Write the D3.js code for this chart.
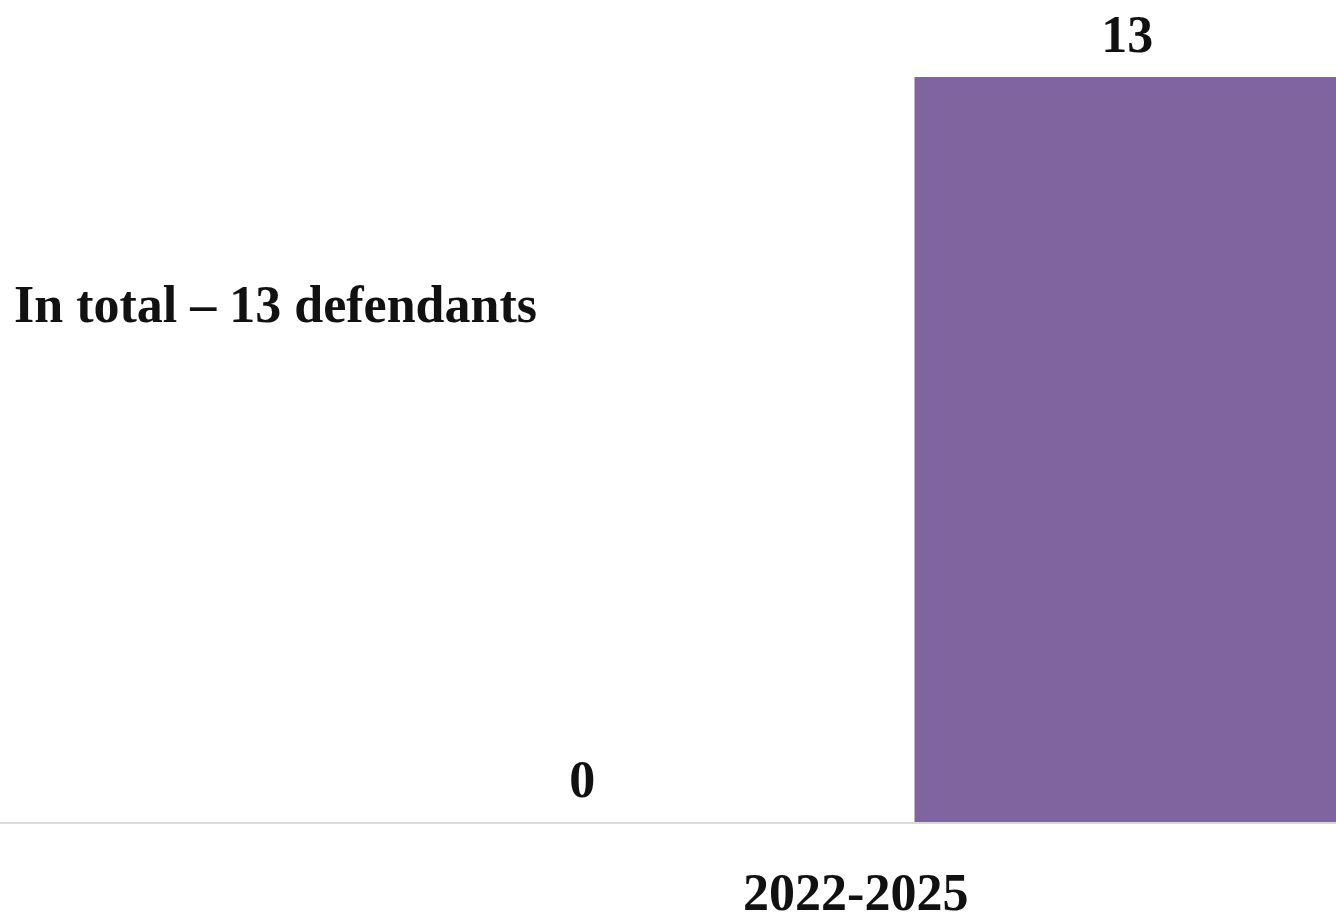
<!DOCTYPE html>
<html><head><meta charset="utf-8">
<script src="https://cdn.jsdelivr.net/npm/d3@7"></script>
<style>html,body{margin:0;padding:0;background:#fff;overflow:hidden}</style>
</head><body>
<svg id="c" width="1336" height="918"></svg>
<script>
const categories = ["2022-2025"];
const series = ["Before", "After"];
const values = [[0, 13]];
const colors = ["#8064a0", "#8064a0"];
const note = "In total – 13 defendants";

const svg = d3.select("#c");
const font = "'Liberation Serif', serif";
const fs = 52;
const baseY = 822, topY = 77;
const y = d3.scaleLinear().domain([0, 13]).range([baseY, topY]);
const x0 = d3.scaleBand().domain(categories).range([369.5, 1336]).padding(0);
const x1 = d3.scaleBand().domain(series).range([0, x0.bandwidth()]).paddingInner(0.2266).paddingOuter(0);

svg.append("line").attr("x1", 0).attr("x2", 1336).attr("y1", baseY + 1).attr("y2", baseY + 1)
  .attr("stroke", "#d9d9d9").attr("stroke-width", 2);

const g = svg.selectAll("g.cat").data(categories).join("g").attr("class", "cat")
  .attr("transform", d => `translate(${x0(d)},0)`);

categories.forEach((c, ci) => {
  const gg = g.filter(d => d === c);
  const rows = series.map((s, si) => ({s, v: values[ci][si], col: colors[si]}));
  gg.selectAll("rect").data(rows).join("rect")
    .attr("x", d => x1(d.s)).attr("width", x1.bandwidth())
    .attr("y", d => y(d.v)).attr("height", d => baseY - y(d.v))
    .attr("fill", d => d.col);
  gg.selectAll("text.val").data(rows).join("text").attr("class", "val")
    .attr("x", d => x1(d.s) + x1.bandwidth() / 2 + 2).attr("y", d => y(d.v) - 25)
    .attr("text-anchor", "middle").attr("font-family", font).attr("font-size", fs).attr("font-weight", "bold")
    .attr("fill", "#111").text(d => d.v);
  gg.append("text").attr("x", x0.bandwidth() / 2 + 3).attr("y", 910)
    .attr("text-anchor", "middle").attr("font-family", font).attr("font-size", fs).attr("font-weight", "bold")
    .attr("fill", "#111").text(c);
});

svg.append("text").attr("x", 14).attr("y", 322).attr("font-family", font).attr("font-size", fs).attr("font-weight", "bold")
  .attr("fill", "#111").text(note);
</script>
</body></html>
